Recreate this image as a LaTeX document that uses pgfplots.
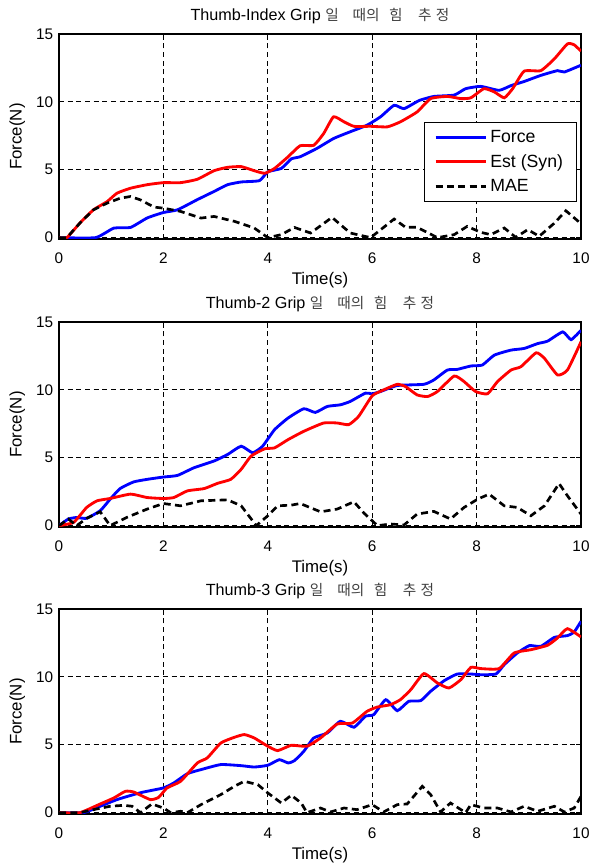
\documentclass[border=0pt]{standalone}
\usepackage{fontspec}
\setmainfont{Liberation Sans}
\newfontfamily\kr{Noto Sans CJK KR}
\usepackage{pgfplots}
\pgfplotsset{compat=1.18}
\newcommand{\krtitle}{{\kr\fontsize{8.8}{10}\selectfont\color{black!75}일\hspace{0.95em}때의\hspace{0.65em}힘\hspace{1.05em}추\hspace{0.3em}정}}
\begin{document}
\begin{tikzpicture}
\pgfplotsset{
  grip/.style={
    scale only axis, width=313.2pt, height=123pt, anchor=south west,
    xmin=0, xmax=10, ymin=-0.1, ymax=15,
    xtick={0,2,...,10}, ytick={0,5,10,15},
    grid=major,
    grid style={black, line width=0.5pt, dash pattern=on 3pt off 2.2pt},
    axis line style={line width=0.8pt},
    tick align=inside, major tick length=3pt, tick style={black, line width=0.6pt},
    /pgf/number format/assume math mode=true,
    tick label style={font=\fontsize{9.2}{10}\selectfont},
    xticklabel style={yshift=-5pt},
    label style={font=\fontsize{10.1}{11}\selectfont},
    xlabel={Time(s)}, ylabel={Force(N)},
    xlabel style={at={(axis description cs:0.5,-0.2)}, anchor=center},
    ylabel style={at={(axis description cs:-0.08,0.5)}, anchor=center},
    title style={at={(axis description cs:0.5,1.041)}, anchor=center, font=\fontsize{9.7}{11}\selectfont},
  },
  fo/.style={blue, line width=1.7pt, smooth, tension=0.3},
  es/.style={red, line width=1.7pt, smooth, tension=0.3},
  ma/.style={black, line width=1.6pt, dash pattern=on 4.2pt off 2.6pt},
}
\useasboundingbox (0,0) rectangle (353.4pt,519pt);

% --- Thumb-Index grip
\begin{axis}[grip, at={(35.4pt,375.6pt)},
  title={Thumb-Index Grip \krtitle},
  legend style={at={(0.992,0.571)}, anchor=north east, draw=black, line width=0.6pt,
    font=\fontsize{10.6}{11}\selectfont, row sep=1.8pt, inner xsep=6pt, inner ysep=2.5pt},
  legend cell align=left,
  legend image code/.code={\draw[#1] (0pt,0pt) -- (30pt,0pt);},
]
\addplot[fo] coordinates {(0,0)(0.7,0)(1.05,0.7)(1.37,0.75)(1.69,1.45)(2.0,1.85)(2.27,2.05)(2.65,2.8)(2.97,3.4)(3.23,3.9)(3.49,4.1)(3.84,4.2)(4.0,4.85)(4.26,5.1)(4.45,5.8)(4.62,5.96)(4.94,6.57)(5.26,7.3)(5.58,7.8)(5.9,8.28)(6.16,8.9)(6.42,9.75)(6.61,9.5)(6.9,10.1)(7.18,10.4)(7.57,10.5)(7.79,10.97)(8.08,11.14)(8.43,10.85)(8.66,11.2)(8.91,11.5)(9.23,11.95)(9.55,12.3)(9.68,12.2)(10,12.7)};
\addlegendentry{Force}
\addplot[es] coordinates {(0,0)(0.15,0)(0.4,1.07)(0.66,2.05)(0.92,2.65)(1.11,3.27)(1.37,3.64)(1.69,3.9)(2.0,4.05)(2.33,4.05)(2.65,4.3)(2.97,4.93)(3.23,5.18)(3.49,5.23)(3.74,4.93)(3.94,4.74)(4.13,5.1)(4.39,5.96)(4.62,6.77)(4.88,6.8)(5.07,7.67)(5.26,8.9)(5.46,8.53)(5.65,8.2)(5.97,8.2)(6.29,8.16)(6.54,8.53)(6.86,9.26)(7.12,10.24)(7.44,10.4)(7.7,10.24)(7.89,10.3)(8.14,10.97)(8.34,10.73)(8.53,10.3)(8.69,10.97)(8.91,12.26)(9.23,12.3)(9.49,13.17)(9.74,14.27)(9.87,14.2)(10,13.73)};
\addlegendentry{Est (Syn)}
\addplot[ma] coordinates {(0,0)(0.15,0)(0.4,1.07)(0.66,2.05)(0.92,2.54)(1.17,2.9)(1.37,3.03)(1.56,2.78)(1.82,2.25)(2.0,2.17)(2.33,1.93)(2.72,1.44)(2.97,1.56)(3.36,1.2)(3.74,0.71)(4.0,0)(4.26,0.22)(4.51,0.75)(4.82,0.34)(5.23,1.49)(5.58,0.34)(5.97,0)(6.42,1.37)(6.64,0.76)(6.86,0.76)(7.25,0)(7.57,0.22)(7.82,0.83)(8.08,0.39)(8.27,0.22)(8.53,0.71)(8.75,0.02)(8.98,0.59)(9.2,0.1)(9.49,1.07)(9.71,1.98)(10,1.03)};
\addlegendentry{MAE}
\end{axis}

% --- Thumb-2 grip
\begin{axis}[grip, at={(35.4pt,202.8pt)},
  title={Thumb-2 Grip \krtitle}]
\addplot[fo] coordinates {(0,0)(0.18,0.49)(0.34,0.6)(0.53,0.54)(0.79,1.1)(0.98,1.95)(1.17,2.73)(1.43,3.22)(1.69,3.41)(2.0,3.58)(2.27,3.7)(2.59,4.27)(2.97,4.76)(3.23,5.24)(3.49,5.85)(3.71,5.37)(3.9,5.85)(4.13,7.07)(4.39,7.93)(4.69,8.61)(4.91,8.34)(5.14,8.78)(5.39,8.9)(5.58,9.15)(5.87,9.76)(6.0,9.71)(6.16,9.88)(6.48,10.32)(6.99,10.41)(7.18,10.73)(7.44,11.46)(7.63,11.51)(7.89,11.76)(8.11,11.83)(8.34,12.56)(8.66,12.93)(8.91,13.05)(9.17,13.41)(9.36,13.59)(9.65,14.27)(9.81,13.7)(10,14.39)};
\addplot[es] coordinates {(0,0)(0.28,0.24)(0.53,1.34)(0.73,1.83)(0.98,2.0)(1.37,2.32)(1.69,2.07)(2.0,2.0)(2.2,2.07)(2.46,2.56)(2.78,2.73)(3.04,3.12)(3.29,3.41)(3.49,4.15)(3.68,5.12)(3.94,5.66)(4.13,5.73)(4.39,6.34)(4.69,6.95)(5.07,7.56)(5.33,7.56)(5.55,7.44)(5.74,8.05)(6.0,9.56)(6.22,10.0)(6.48,10.41)(6.64,10.24)(6.86,9.63)(7.06,9.51)(7.25,9.88)(7.57,11.02)(7.76,10.61)(7.98,9.88)(8.21,9.71)(8.4,10.61)(8.66,11.46)(8.85,11.71)(9.14,12.73)(9.3,12.32)(9.55,11.1)(9.74,11.46)(10,13.54)};
\addplot[ma] coordinates {(0,0)(0.18,0.49)(0.34,0)(0.53,0.54)(0.79,1.02)(0.98,0)(1.3,0.61)(1.69,1.22)(2.0,1.63)(2.33,1.46)(2.72,1.83)(3.23,1.9)(3.49,1.46)(3.78,0)(4.0,0.73)(4.19,1.46)(4.45,1.51)(4.62,1.63)(5.01,1.02)(5.33,1.22)(5.65,1.76)(5.84,0.93)(6.1,0)(6.35,0.12)(6.61,0.05)(6.86,0.85)(7.18,1.05)(7.5,0.49)(7.76,1.34)(8.02,1.95)(8.24,2.32)(8.53,1.46)(8.78,1.34)(9.04,0.73)(9.3,1.46)(9.58,3.1)(9.74,2.2)(10,0.85)};
\end{axis}

% --- Thumb-3 grip
\begin{axis}[grip, at={(35.4pt,30.6pt)},
  title={Thumb-3 Grip \krtitle}]
\addplot[fo] coordinates {(0,0)(0.47,0)(0.79,0.47)(1.11,0.96)(1.43,1.33)(1.62,1.52)(2.0,1.82)(2.2,2.19)(2.46,2.87)(2.72,3.17)(3.1,3.54)(3.49,3.46)(3.74,3.36)(4.0,3.49)(4.22,3.9)(4.39,3.66)(4.51,3.83)(4.69,4.52)(4.88,5.5)(5.14,5.87)(5.39,6.73)(5.65,6.29)(5.87,7.1)(6.03,7.22)(6.26,8.32)(6.48,7.51)(6.7,8.2)(6.93,8.25)(7.12,8.94)(7.38,9.72)(7.63,10.21)(7.89,10.21)(8.08,10.16)(8.37,10.21)(8.53,10.9)(8.78,11.76)(9.01,12.3)(9.23,12.25)(9.49,12.91)(9.74,13.04)(9.87,13.31)(10,14.09)};
\addplot[es] coordinates {(0,0)(0.4,0)(0.79,0.64)(1.05,1.08)(1.27,1.57)(1.43,1.52)(1.75,0.96)(1.91,1.13)(2.07,1.82)(2.33,2.31)(2.65,3.66)(2.84,4.03)(3.1,5.13)(3.36,5.55)(3.55,5.75)(3.74,5.5)(4.0,4.89)(4.19,4.57)(4.45,4.96)(4.75,4.89)(5.01,5.5)(5.33,6.53)(5.62,6.6)(5.9,7.46)(6.1,7.78)(6.35,7.95)(6.54,8.32)(6.74,9.06)(6.99,10.24)(7.25,9.55)(7.47,9.18)(7.7,9.8)(7.89,10.7)(8.08,10.61)(8.43,10.61)(8.72,11.76)(9.04,12.0)(9.36,12.33)(9.55,12.87)(9.74,13.55)(10,12.94)};
\addplot[ma] coordinates {(0,0)(0.4,0)(0.66,0.22)(0.98,0.47)(1.24,0.54)(1.4,0.47)(1.56,0)(1.78,0.64)(2.0,0.34)(2.14,0)(2.33,0.1)(2.46,0)(2.72,0.59)(3.1,1.33)(3.36,1.94)(3.55,2.31)(3.81,2.06)(4.0,1.45)(4.26,0.71)(4.45,1.28)(4.64,0.71)(4.75,0)(5.01,0.34)(5.2,0.05)(5.46,0.34)(5.71,0.22)(6.0,0.59)(6.22,0.05)(6.48,0.59)(6.67,0.64)(6.96,1.94)(7.12,1.33)(7.31,0.05)(7.5,0.71)(7.79,0)(7.89,0.59)(8.14,0.34)(8.4,0.34)(8.66,0.05)(8.91,0.47)(9.17,0.1)(9.49,0.47)(9.68,0.05)(9.87,0.34)(10,1.2)};
\end{axis}
\end{tikzpicture}
\end{document}
